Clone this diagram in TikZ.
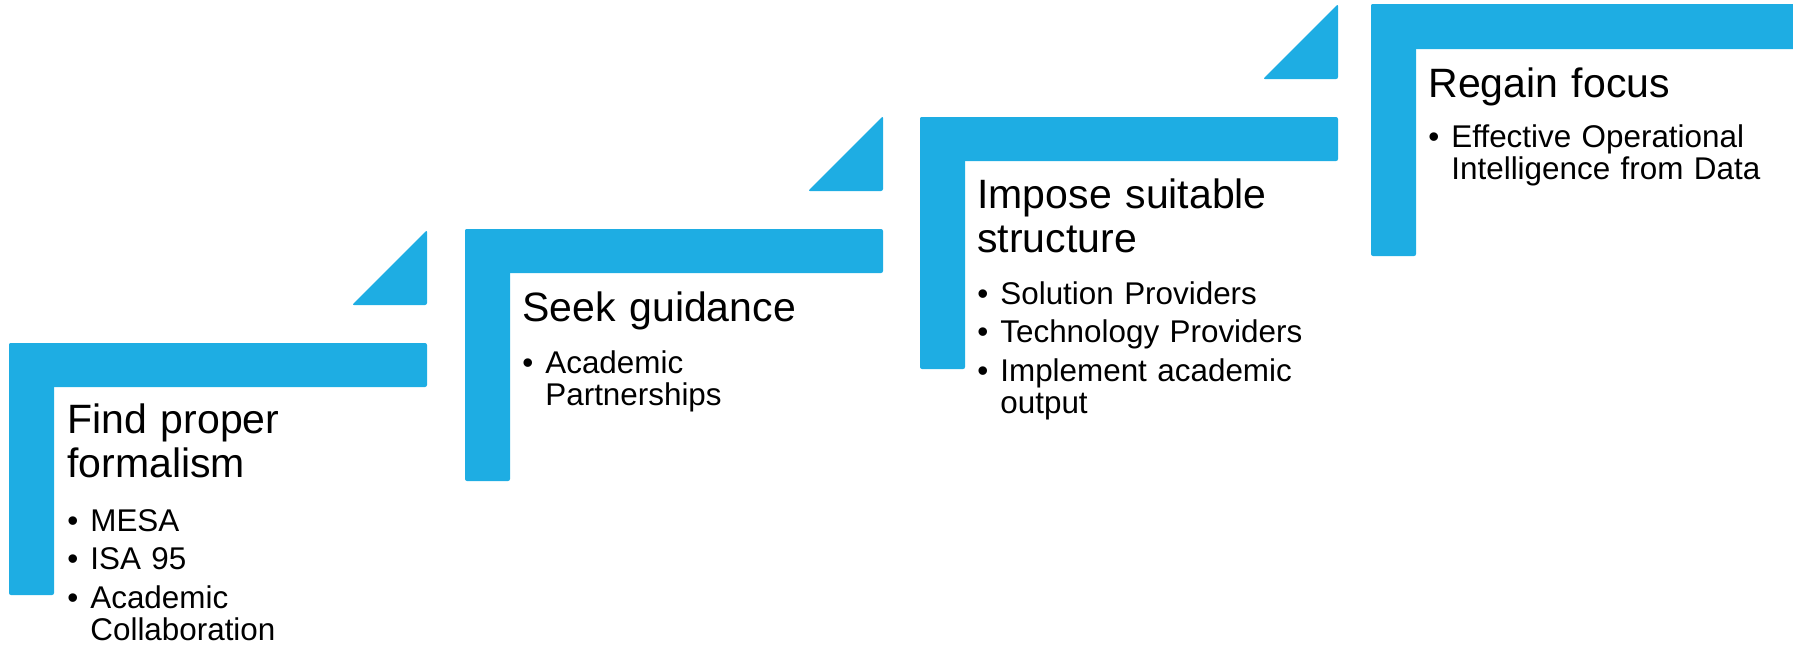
\documentclass[tikz,border=0pt]{standalone}
\usepackage{fontspec}
\setmainfont{Liberation Sans}
\definecolor{stepblue}{RGB}{30,173,227}
\newcommand{\bul}[1]{\hangindent=11.5pt\hangafter=1\noindent\makebox[11.5pt][l]{\textbullet}#1\par}

\begin{document}
\begin{tikzpicture}[x=0.5pt,y=-0.5pt,
    bar/.style ={fill=stepblue, rounded corners=1pt},
    steptitle/.style ={anchor=base west, inner sep=0pt, text width=190pt, align=left,
      font=\fontsize{20.5}{22}\selectfont},
    steplist/.style ={anchor=base west, inner sep=0pt, text width=190pt, align=left,
      font=\fontsize{15.7}{16.25}\selectfont\setlength{\parskip}{3pt}}]
   \useasboundingbox (0,0) rectangle (1793,645);

   % step 1
   \fill[bar] (9,343) rectangle (427,387);
   \fill[bar] (9,343) rectangle (54,595);
   \fill[bar] (427,305) -- (352,305) -- (427,230) -- cycle;
   % step 2
   \fill[bar] (465,229) rectangle (883,273);
   \fill[bar] (465,229) rectangle (510,481);
   \fill[bar] (883,191) -- (808,191) -- (883,116) -- cycle;
   % step 3
   \fill[bar] (920,117) rectangle (1338,161);
   \fill[bar] (920,117) rectangle (965,369);
   \fill[bar] (1338,79) -- (1263,79) -- (1338,4) -- cycle;
   % step 4
   \fill[bar] (1371,4) rectangle (1795,49);
   \fill[bar] (1371,4) rectangle (1416,256);

   \node[steptitle] (T1) at (67,433) {Find proper\\formalism};
   \node[steplist]  (B1) at (67,531) {\bul{MESA}\bul{ISA 95}\bul{Academic\newline Collaboration}};
   \node[steptitle] (T2) at (522,321) {Seek guidance};
   \node[steplist]  (B2) at (522,373) {\bul{Academic\newline Partnerships}};
   \node[steptitle] (T3) at (977,208) {Impose suitable\\structure};
   \node[steplist]  (B3) at (977,304) {\bul{Solution Providers}\bul{Technology Providers}\bul{Implement academic\newline output}};
   \node[steptitle] (T4) at (1428,97) {Regain focus};
   \node[steplist]  (B4) at (1428,147) {\bul{Effective Operational\newline Intelligence from Data}};
 \end{tikzpicture}
\end{document}
